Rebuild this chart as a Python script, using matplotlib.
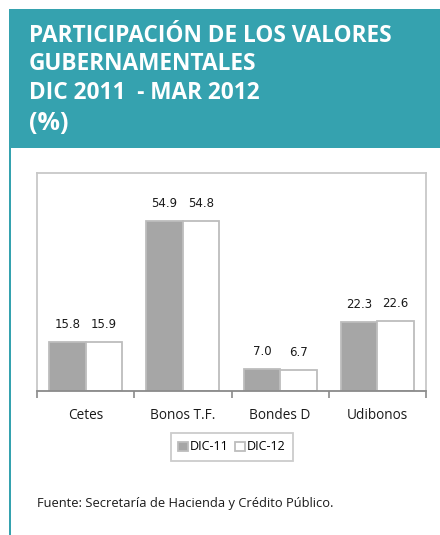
import matplotlib
matplotlib.use("Agg")
import matplotlib.pyplot as plt
import numpy as np
from matplotlib.patches import Rectangle

categories = ["Cetes", "Bonos T.F.", "Bondes D", "Udibonos"]
dic11 = [15.8, 54.9, 7.0, 22.3]
dic12 = [15.9, 54.8, 6.7, 22.6]
series_names = ["DIC-11", "DIC-12"]
title_lines = ["PARTICIPACIÓN DE LOS VALORES", "GUBERNAMENTALES", "DIC 2011  - MAR 2012", "(%)"]
source = "Fuente: Secretaría de Hacienda y Crédito Público."

W, H = 440, 535
fig = plt.figure(figsize=(W / 100, H / 100), dpi=100)
fig.patch.set_facecolor("white")

TEAL = "#35A2AF"

def fx(px):
    return px / W

def fy(py):
    return 1 - py / H

# header band
fig.patches.append(Rectangle((fx(9), fy(148)), 1 - fx(9), (148 - 9) / H,
                             transform=fig.transFigure, facecolor=TEAL, edgecolor="none", zorder=0))
# left vertical line
fig.patches.append(Rectangle((fx(8.5), 0), 2.2 / W, fy(9),
                             transform=fig.transFigure, facecolor=TEAL, edgecolor="none", zorder=0))

title_y = [36, 64, 93, 123]
for i, (line, yy) in enumerate(zip(title_lines, title_y)):
    fig.text(fx(29), fy(yy), line, color="white", fontsize=16.3 if i < 3 else 18,
             fontweight="bold", family=["Open Sans", "DejaVu Sans"], va="center", ha="left")

# axes
left, right, top, bottom = 37, 426, 173, 391
ax = fig.add_axes([fx(left), fy(bottom), (right - left) / W, (bottom - top) / H])
x = np.arange(len(categories))
bw = 0.375
b1 = ax.bar(x - bw / 2, dic11, bw, color="#A6A6A6", edgecolor="#BDBDBD", linewidth=1.3, zorder=2)
b2 = ax.bar(x + bw / 2, dic12, bw, color="white", edgecolor="#BDBDBD", linewidth=1.3, zorder=2)
ax.set_xlim(-0.5, len(categories) - 0.5)
ax.set_ylim(0, 70.4)
ax.set_yticks([])
for sp in ["top", "left", "right"]:
    ax.spines[sp].set_color("#C8C8C8")
    ax.spines[sp].set_linewidth(1.3)
ax.spines["bottom"].set_color("#8A8A8A")
ax.spines["bottom"].set_linewidth(1.3)
ax.set_xticks(x)
ax.set_xticklabels(categories, fontsize=9.8, family=["Open Sans", "DejaVu Sans"], color="#1a1a1a")
ax.tick_params(axis="x", which="major", length=0, pad=12)
ax.set_xticks(np.arange(-0.5, len(categories)), minor=True)
ax.tick_params(axis="x", which="minor", length=5, color="#8A8A8A", width=1.2, direction="out")

for bars, vals in [(b1, dic11), (b2, dic12)]:
    for r, v in zip(bars, vals):
        ax.annotate(f"{v:.1f}", (r.get_x() + r.get_width() / 2, v), xytext=(0, 8),
                    textcoords="offset points", ha="center", va="bottom", fontsize=8.5,
                    family=["DejaVu Sans"], color="#1a1a1a")

leg = fig.legend([b1, b2], series_names, loc="center", bbox_to_anchor=(fx(232), fy(447)),
                 ncol=2, frameon=True, fancybox=False, edgecolor="#BFBFBF",
                 handlelength=0.75, handleheight=0.75, handletextpad=0.2, columnspacing=0.5,
                 borderpad=0.6, prop={"size": 9, "family": ["Open Sans", "DejaVu Sans"]})
leg.get_frame().set_linewidth(1.3)

fig.text(fx(37), fy(504), source, fontsize=9.3, family=["Open Sans", "DejaVu Sans"],
         color="#1a1a1a", va="center", ha="left")

fig.savefig("out.png", dpi=100)
